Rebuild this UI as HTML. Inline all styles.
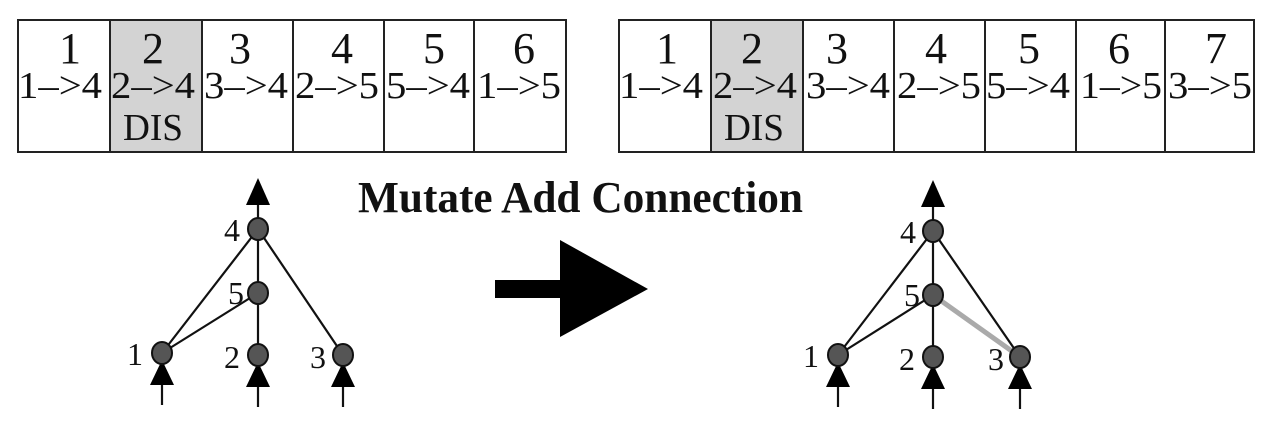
<!DOCTYPE html>
<html><head><style>
body{margin:0;background:#fff}
svg text{font-family:"Liberation Serif",serif;fill:#111}
</style></head><body>
<svg width="1280" height="430" viewBox="0 0 1280 430" xmlns="http://www.w3.org/2000/svg">
<rect x="0" y="0" width="1280" height="430" fill="#fff"/>
<!-- left table -->
<g stroke="#222" stroke-width="2" fill="none">
<rect x="110" y="20" width="92" height="132" fill="#d3d3d3" stroke="none"/>
<rect x="18" y="20" width="548" height="132"/>
<line x1="110" y1="20" x2="110" y2="152"/><line x1="202" y1="20" x2="202" y2="152"/>
<line x1="293" y1="20" x2="293" y2="152"/><line x1="384" y1="20" x2="384" y2="152"/>
<line x1="474" y1="20" x2="474" y2="152"/>
</g>
<g font-size="44" text-anchor="middle">
<text x="70" y="63">1</text><text x="153" y="63">2</text><text x="240" y="63">3</text>
<text x="342" y="63">4</text><text x="434" y="63">5</text><text x="524" y="63">6</text>
</g>
<g font-size="38">
<text x="18" y="98" textLength="84" lengthAdjust="spacingAndGlyphs">1–&gt;4</text>
<text x="111" y="98" textLength="84" lengthAdjust="spacingAndGlyphs">2–&gt;4</text>
<text x="204" y="98" textLength="84" lengthAdjust="spacingAndGlyphs">3–&gt;4</text>
<text x="295" y="98" textLength="84" lengthAdjust="spacingAndGlyphs">2–&gt;5</text>
<text x="386" y="98" textLength="84" lengthAdjust="spacingAndGlyphs">5–&gt;4</text>
<text x="477" y="98" textLength="84" lengthAdjust="spacingAndGlyphs">1–&gt;5</text>
<text x="123" y="140" textLength="60" lengthAdjust="spacingAndGlyphs">DIS</text>
</g>
<!-- right table -->
<g stroke="#222" stroke-width="2" fill="none">
<rect x="711" y="20" width="92" height="132" fill="#d3d3d3" stroke="none"/>
<rect x="619" y="20" width="635" height="132"/>
<line x1="711" y1="20" x2="711" y2="152"/><line x1="803" y1="20" x2="803" y2="152"/>
<line x1="894" y1="20" x2="894" y2="152"/><line x1="985" y1="20" x2="985" y2="152"/>
<line x1="1076" y1="20" x2="1076" y2="152"/><line x1="1165" y1="20" x2="1165" y2="152"/>
</g>
<g font-size="44" text-anchor="middle">
<text x="667" y="63">1</text><text x="752" y="63">2</text><text x="837" y="63">3</text>
<text x="936" y="63">4</text><text x="1029" y="63">5</text><text x="1119" y="63">6</text><text x="1216" y="63">7</text>
</g>
<g font-size="38">
<text x="619" y="98" textLength="84" lengthAdjust="spacingAndGlyphs">1–&gt;4</text>
<text x="713" y="98" textLength="84" lengthAdjust="spacingAndGlyphs">2–&gt;4</text>
<text x="806" y="98" textLength="84" lengthAdjust="spacingAndGlyphs">3–&gt;4</text>
<text x="897" y="98" textLength="84" lengthAdjust="spacingAndGlyphs">2–&gt;5</text>
<text x="986" y="98" textLength="84" lengthAdjust="spacingAndGlyphs">5–&gt;4</text>
<text x="1080" y="98" textLength="82" lengthAdjust="spacingAndGlyphs">1–&gt;5</text>
<text x="1168" y="98" textLength="84" lengthAdjust="spacingAndGlyphs">3–&gt;5</text>
<text x="724" y="140" textLength="60" lengthAdjust="spacingAndGlyphs">DIS</text>
</g>
<!-- title -->
<text x="358" y="212" font-size="44" font-weight="bold" textLength="445" lengthAdjust="spacingAndGlyphs">Mutate Add Connection</text>
<!-- big arrow -->
<rect x="495" y="280" width="67" height="18" fill="#000"/>
<polygon points="560,240 648,289 560,337" fill="#000"/>
<!-- left network -->
<g stroke="#111" stroke-width="2.2">
<line x1="258" y1="229" x2="162" y2="353"/><line x1="258" y1="229" x2="258" y2="355"/>
<line x1="258" y1="229" x2="343" y2="355"/><line x1="258" y1="293" x2="162" y2="353"/>
<line x1="258" y1="229" x2="258" y2="200"/>
<line x1="162" y1="370" x2="162" y2="405"/><line x1="258" y1="370" x2="258" y2="407"/><line x1="343" y1="370" x2="343" y2="407"/>
</g>
<polygon points="258,178 246,205 270,205" fill="#000"/>
<polygon points="162,360 150,385 174,385" fill="#000"/>
<polygon points="258,362 246,387 270,387" fill="#000"/>
<polygon points="343,362 331,387 355,387" fill="#000"/>
<g fill="#555" stroke="#111" stroke-width="2">
<ellipse cx="258" cy="229" rx="10" ry="11"/><ellipse cx="258" cy="293" rx="10" ry="11"/>
<ellipse cx="162" cy="353" rx="10" ry="11"/><ellipse cx="258" cy="355" rx="10" ry="11"/><ellipse cx="343" cy="355" rx="10" ry="11"/>
</g>
<g font-size="32" text-anchor="middle">
<text x="232" y="241">4</text><text x="236" y="304">5</text><text x="135" y="365">1</text><text x="232" y="368">2</text><text x="318" y="368">3</text>
</g>
<!-- right network -->
<line x1="933" y1="295" x2="1020" y2="357" stroke="#aaa" stroke-width="5"/>
<g stroke="#111" stroke-width="2.2">
<line x1="933" y1="231" x2="838" y2="355"/><line x1="933" y1="231" x2="933" y2="357"/>
<line x1="933" y1="231" x2="1020" y2="357"/><line x1="933" y1="295" x2="838" y2="355"/>
<line x1="933" y1="231" x2="933" y2="202"/>
<line x1="838" y1="372" x2="838" y2="407"/><line x1="933" y1="372" x2="933" y2="409"/><line x1="1020" y1="372" x2="1020" y2="409"/>
</g>
<polygon points="933,180 921,207 945,207" fill="#000"/>
<polygon points="838,362 826,387 850,387" fill="#000"/>
<polygon points="933,364 921,389 945,389" fill="#000"/>
<polygon points="1020,364 1008,389 1032,389" fill="#000"/>
<g fill="#555" stroke="#111" stroke-width="2">
<ellipse cx="933" cy="231" rx="10" ry="11"/><ellipse cx="933" cy="295" rx="10" ry="11"/>
<ellipse cx="838" cy="355" rx="10" ry="11"/><ellipse cx="933" cy="357" rx="10" ry="11"/><ellipse cx="1020" cy="357" rx="10" ry="11"/>
</g>
<g font-size="32" text-anchor="middle">
<text x="908" y="243">4</text><text x="912" y="306">5</text><text x="811" y="367">1</text><text x="907" y="370">2</text><text x="996" y="370">3</text>
</g>
</svg>
</body></html>
